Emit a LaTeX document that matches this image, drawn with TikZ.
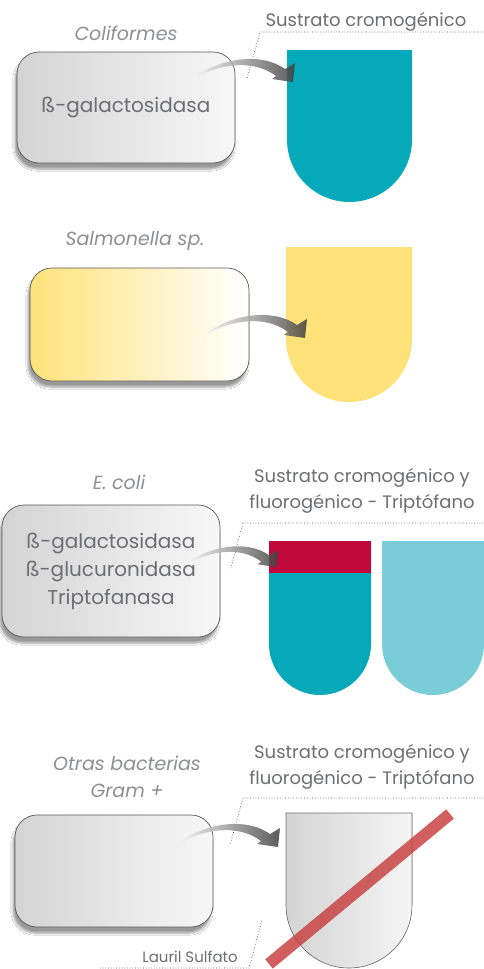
\documentclass[tikz,border=0pt]{standalone}
\usepackage{fontspec}
\setmainfont{Poppins}
\usepackage{tikz}
\usetikzlibrary{arrows.meta,positioning,shadows.blur,calc}
\usepackage{xcolor}
\definecolor{txtgris}{HTML}{6D6E71}
\definecolor{titgris}{HTML}{8E8F92}
\definecolor{turquesa}{HTML}{05A9B9}
\definecolor{turquesaclaro}{HTML}{78CDD6}
\definecolor{amarillo}{HTML}{FDE27A}
\definecolor{granate}{HTML}{C0083B}
\definecolor{barrarojo}{HTML}{C94444}

% tubo: izquierda, arriba, ancho, abajo, estilo
\newcommand{\tubo}[5]{%
  \fill[#5] (#1,#2) -- (#1,#4-#3/2) arc[start angle=180,end angle=0,radius=#3/2] -- (#1+#3,#2) -- cycle;}

\begin{document}
\begin{tikzpicture}[x=1pt,y=-1pt,
    caja/.style={rounded corners=22pt, draw=black!65, line width=0.7pt, text=txtgris,
      align=center, inner sep=0pt, font=\fontsize{20}{28}\selectfont,
      blur shadow={shadow xshift=-2pt, shadow yshift=-6pt, shadow blur steps=8, shadow opacity=40}},
    cajagris/.style={caja, left color=black!17, right color=black!3},
    cajaamarilla/.style={caja, left color=amarillo, right color=white},
    titulo/.style={text=titgris, font=\fontsize{19}{27}\selectfont\itshape, align=center},
    etiqueta/.style={text=txtgris, font=\fontsize{18}{26}\selectfont, align=center},
    guia/.style={black!70, dotted, line width=0.7pt},
    barra/.style={barrarojo, line width=12pt, opacity=0.85},
    flecha/.pic={
      \shade[left color=white, right color=black!75, fill opacity=0.85]
        (0,0) .. controls (25,-22) and (70,-32) .. (97,-13)
        -- (107,-19) -- (105,0) -- (84,-3) -- (88,-6)
        .. controls (64,-24) and (28,-18) .. (0,0) -- cycle;
    }]
  \fill[white] (0,0) rectangle (483,969);
  \useasboundingbox (0,0) rectangle (483,969);

  % Coliformes
  \node[titulo] (coli) at (126,33) {Coliformes};
  \node[cajagris, minimum width=218, minimum height=111] (caja1) at (126,107.5) {ß-galactosidasa};
  \tubo{287}{50}{125}{202}{turquesa}
  \node[etiqueta] (sus1) at (366,22) {Sustrato cromogénico};
  \coordinate (g1a) at (483,32);
  \coordinate (g1b) at (247,79);
  \draw[guia] (g1a) -- (260,32) -- (g1b);
  \pic at (188,82) {flecha};

  % Salmonella
  \node[titulo] (salm) at (135,241) {Salmonella sp.};
  \node[cajaamarilla, minimum width=219, minimum height=113] (caja2) at (139.5,324.5) {};
  \tubo{286}{247}{126}{402}{amarillo}
  \pic at (200,338) {flecha};

  % E. coli
  \node[titulo] (ecoli) at (119,482) {E. coli};
  \node[cajagris, minimum width=218, minimum height=132] (caja3) at (111,571)
    {ß-galactosidasa\\ß-glucuronidasa\\Triptofanasa};
  \tubo{269}{541}{102}{695}{turquesa}
  \fill[granate] (269,541) rectangle (371,573);
  \tubo{382}{541}{102}{695}{turquesaclaro}
  \node[etiqueta] (sus3) at (362,491) {Sustrato cromogénico y\\fluorogénico - Triptófano};
  \coordinate (g3a) at (483,523);
  \coordinate (g3b) at (231,568);
  \draw[guia] (g3a) -- (243,523) -- (g3b);
  \pic[scale=0.9] at (182,567) {flecha};

  % Otras bacterias
  \node[titulo] (otras) at (127,777) {Otras bacterias\\Gram +};
  \node[cajagris, minimum width=198, minimum height=112] (caja4) at (114,871) {};
  \tubo{286}{813}{126}{968}{left color=black!17, right color=black!4, draw=black!55, line width=0.6pt}
  \node[etiqueta] (sus4) at (362,767) {Sustrato cromogénico y\\fluorogénico - Triptófano};
  \coordinate (g4a) at (483,798);
  \coordinate (g4b) at (230,845);
  \draw[guia] (g4a) -- (243,798) -- (g4b);
  \pic at (173,847) {flecha};
  \coordinate (b1) at (269,964);
  \coordinate (b2) at (450,814);
  \draw[barra] (b1) -- (b2);
  \node[etiqueta, font=\fontsize{15}{17}\selectfont] (lauril) at (190,957) {Lauril Sulfato};
  \coordinate (g5a) at (100,968);
  \coordinate (g5b) at (262,920);
  \draw[guia] (g5a) -- (249,968) -- (g5b);
\end{tikzpicture}
\end{document}
